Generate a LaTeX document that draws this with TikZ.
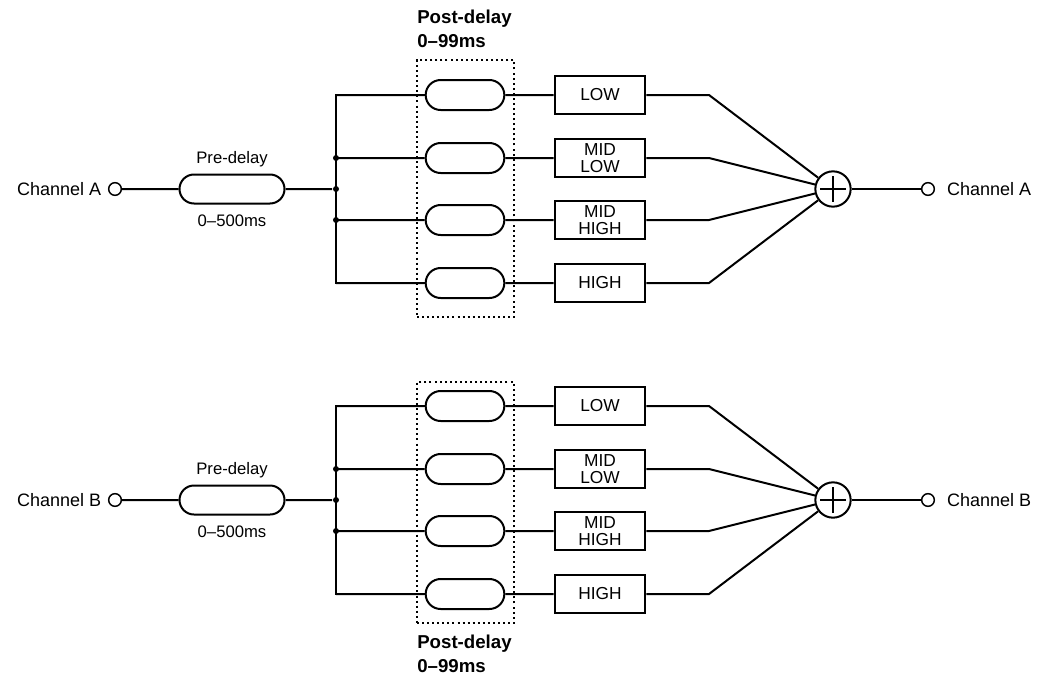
\documentclass[tikz,border=0pt]{standalone}
\usepackage{fontspec}
\setmainfont{Liberation Sans}
\usepackage{tikz}
\usetikzlibrary{positioning, shapes.misc, fit}

\begin{document}
\begin{tikzpicture}[
  x=0.75pt, y=-0.75pt,
  line width=1.5pt,
  lbl/.style={font=\fontsize{12.5}{14}\selectfont},
  chan/.style={font=\fontsize{13.5}{15}\selectfont},
  port/.style={draw, circle, minimum size=9.5pt, inner sep=0pt, line width=1.1pt},
  pill/.style={draw, rounded rectangle, minimum width=59pt, minimum height=22.5pt, inner sep=0pt},
  band/.style={draw, minimum width=68pt, minimum height=28.5pt, inner sep=1pt, align=center,
    font=\fontsize{13}{12.5}\selectfont},
  sum/.style={draw, circle, minimum size=26.5pt, inner sep=0pt},
  window/.style={draw, line width=1.1pt, dash pattern=on 1.5pt off 2.3pt, inner sep=0pt},
  postlbl/.style={font=\bfseries\fontsize{14}{18}\selectfont, align=left, inner sep=0pt},
  dot/.style={circle, fill, inner sep=0pt, minimum size=4.5pt},
]
  \useasboundingbox (0,0) rectangle (1045,678);

  \foreach \ch/\yy/\wtop/\wbot in {A/189/-129/128, B/500/-118/123} {
    % input side
    \node[port] (in\ch) at (115,\yy) {};
    \node[chan, left=1pt of in\ch] (inlbl\ch) {Channel \ch};
    \node[pill, minimum width=78.75pt, minimum height=21.75pt] (pre\ch) at (232,\yy) {};
    \node[lbl, above=1pt of pre\ch] (pretop\ch) {Pre-delay};
    \node[lbl, below=4pt of pre\ch] (prebot\ch) {0--500ms};
    \node[dot] (bus\ch) at (336,\yy) {};
    \draw (in\ch) -- (pre\ch) -- (bus\ch);

    % mixer and output
    \node[sum] (sum\ch) at (833,\yy) {};
    \draw[line width=1pt] ([xshift=-9.5pt]sum\ch.center) -- ([xshift=9.5pt]sum\ch.center)
      ([yshift=-9.5pt]sum\ch.center) -- ([yshift=9.5pt]sum\ch.center);
    \node[port] (out\ch) at (928,\yy) {};
    \node[chan, right=5pt of out\ch] (outlbl\ch) {Channel \ch};
    \draw (sum\ch) -- (out\ch);

    % four bands
    \foreach \i/\dy/\txt in {1/-94/LOW, 2/-31/{MID\\LOW}, 3/31/{MID\\HIGH}, 4/94/HIGH} {
      \coordinate (b\ch\i) at (336,\yy+\dy);
      \node[pill] (post\ch\i) at (465,\yy+\dy) {};
      \node[band] (f\ch\i) at (600,\yy+\dy) {\txt};
      \coordinate (k\ch\i) at (709,\yy+\dy);
      \draw (b\ch\i) -- (post\ch\i) -- (f\ch\i) -- (k\ch\i) -- (sum\ch);
    }
    \draw (post\ch1) -- (b\ch1) -- (b\ch4) -- (post\ch4);
    \node[dot] (j\ch2) at (b\ch2) {};
    \node[dot] (j\ch3) at (b\ch3) {};

    \node[window, fit={(417,\yy+\wtop) (514,\yy+\wbot)}] (win\ch) {};
  }

  \node[postlbl, anchor=south west, yshift=8pt] (postA) at (winA.north west) {Post-delay\\0--99ms};
  \node[postlbl, anchor=north west, yshift=-7.5pt] (postB) at (winB.south west) {Post-delay\\0--99ms};
\end{tikzpicture}
\end{document}
